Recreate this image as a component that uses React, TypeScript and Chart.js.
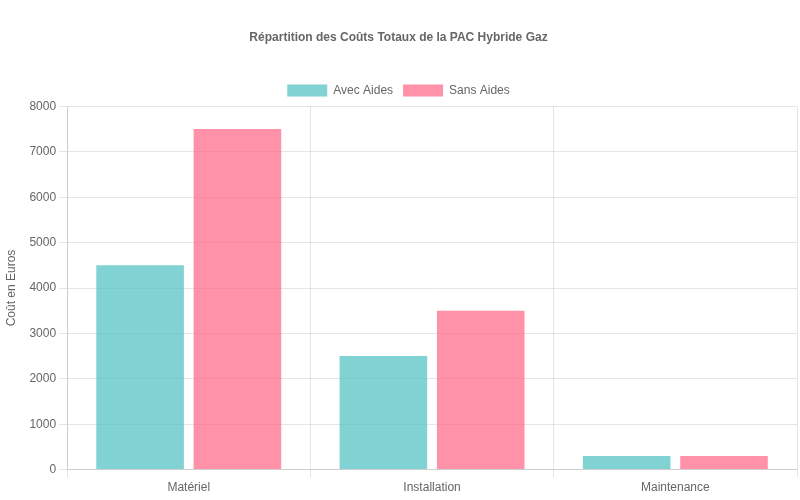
import React, { useEffect, useRef } from 'react';
import { Chart, registerables } from 'chart.js';

Chart.register(...registerables);

const categories = ['Matériel', 'Installation', 'Maintenance'];
const avecAides = [4500, 2500, 300];
const sansAides = [7500, 3500, 300];

const App = () => {
  const canvasRef = useRef<HTMLCanvasElement>(null);

  useEffect(() => {
    document.body.style.margin = '0';
    if (!canvasRef.current) return;
    const chart = new Chart(canvasRef.current, {
      type: 'bar',
      data: {
        labels: categories,
        datasets: [
          {
            label: 'Avec Aides',
            data: avecAides,
            backgroundColor: 'rgba(75, 192, 192, 0.7)',
            borderWidth: 0,
          },
          {
            label: 'Sans Aides',
            data: sansAides,
            backgroundColor: 'rgba(255, 99, 132, 0.7)',
            borderWidth: 0,
          },
        ],
      },
      options: {
        responsive: true,
        maintainAspectRatio: false,
        animation: false,
        layout: { padding: { right: 3, bottom: 2 } },
        plugins: {
          title: {
            display: true,
            text: 'Répartition des Coûts Totaux de la PAC Hybride Gaz',
            color: '#666',
            font: { size: 12, weight: 'bold' },
            padding: { top: 30, bottom: 30 },
          },
          legend: {
            labels: { color: '#666', font: { size: 12 } },
          },
        },
        scales: {
          x: {
            ticks: { color: '#666', font: { size: 12 } },
          },
          y: {
            beginAtZero: true,
            max: 8000,
            ticks: {
              color: '#666',
              font: { size: 12 },
              stepSize: 1000,
              callback: (value: any) => String(value),
            },
            title: {
              display: true,
              text: 'Coût en Euros',
              color: '#666',
              font: { size: 12 },
              padding: { top: 4, bottom: 8 },
            },
          },
        },
      },
    });
    return () => chart.destroy();
  }, []);

  return (
    <div style={{ width: 800, height: 500, position: 'relative' }}>
      <canvas ref={canvasRef}></canvas>
    </div>
  );
};

export default App;
